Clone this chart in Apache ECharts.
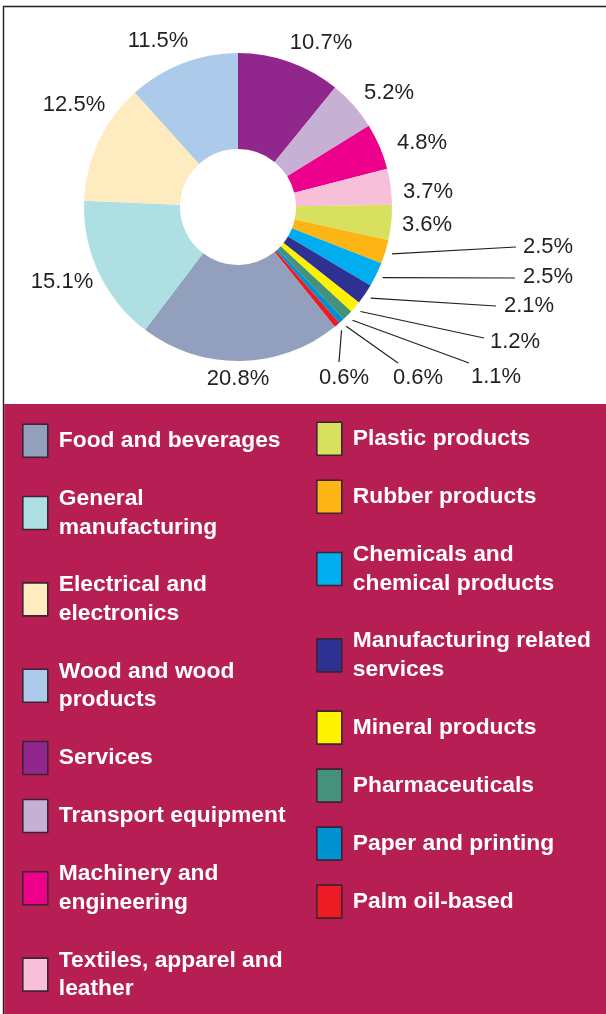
<!DOCTYPE html>
<html>
<head>
<meta charset="utf-8">
<title>Investments by industry</title>
<script src="https://cdn.jsdelivr.net/npm/echarts@6/dist/echarts.min.js"></script>
<style>
  html, body { margin: 0; padding: 0; background: #ffffff; }
  #chart { width: 606px; height: 1014px; }
</style>
</head>
<body>
<div id="chart"></div>
<script>
// Industries, in legend order (left column first, then right column)
var categories = [
  'Food and beverages',
  'General manufacturing',
  'Electrical and electronics',
  'Wood and wood products',
  'Services',
  'Transport equipment',
  'Machinery and engineering',
  'Textiles, apparel and leather',
  'Plastic products',
  'Rubber products',
  'Chemicals and chemical products',
  'Manufacturing related services',
  'Mineral products',
  'Pharmaceuticals',
  'Paper and printing',
  'Palm oil-based'
];

// Share of each industry, in percent
var shares = [20.8, 15.1, 12.5, 11.5, 10.7, 5.2, 4.8, 3.7, 3.6, 2.5, 2.5, 2.1, 1.2, 1.1, 0.6, 0.6];

// Legend text with its line breaks
var legendText = [
  'Food and beverages',
  'General\nmanufacturing',
  'Electrical and\nelectronics',
  'Wood and wood\nproducts',
  'Services',
  'Transport equipment',
  'Machinery and\nengineering',
  'Textiles, apparel and\nleather',
  'Plastic products',
  'Rubber products',
  'Chemicals and\nchemical products',
  'Manufacturing related\nservices',
  'Mineral products',
  'Pharmaceuticals',
  'Paper and printing',
  'Palm oil-based'
];

var colors = [
  '#929fbd', '#aedfe3', '#feebbf', '#accbea',
  '#91278c', '#c6b1d5', '#ec008c', '#f7c0d8',
  '#d7e15e', '#fdb515', '#00aeef', '#2e3192',
  '#fff200', '#46917b', '#0092d0', '#ed1c24'
];

// ---- layout ----
var CX = 238, CY = 207, R_OUT = 154, R_IN = 58;
var FONT = '"Liberation Sans", Arial, Helvetica, sans-serif';

// The sweep starts at 12 o'clock with "Services" and runs clockwise
var firstInSweep = 4;
var sweep = [];
for (var k = 0; k < categories.length; k++) sweep.push((firstInSweep + k) % categories.length);

// Label centres (offset from the pie centre) and leader-line ends for the thin slices
var labelSpots = [
  [0, 172], [-176, 75], [-164, -102], [-80, -166],
  [83, -164], [151, -114], [184, -64], [190, -15],
  [189, 18], [310, 40], [310, 70], [291, 99],
  [277, 135], [258, 170], [180, 171], [106, 171]
];
var lineEnds = [
  null, null, null, null, null, null, null, null, null,
  [278, 40], [277, 71], [258, 99], [246, 131], [231, 156], [160, 156], [101, 155]
];

// Mid angle of every slice, clockwise from 12 o'clock, in radians
var total = shares.reduce(function (a, b) { return a + b; }, 0);
var midAngle = {};
var acc = 0;
sweep.forEach(function (i) {
  midAngle[i] = (acc + shares[i] / 2) / total * Math.PI * 2;
  acc += shares[i];
});

var pieData = sweep.map(function (i) {
  return {
    name: categories[i],
    value: shares[i],
    itemStyle: { color: colors[i] },
    labelLine: { show: !!lineEnds[i] }
  };
});

function legendFor(names, left, top) {
  return {
    orient: 'vertical',
    left: left,
    top: top,
    height: 640,
    padding: 0,
    itemGap: 23.4,
    itemWidth: 25,
    itemHeight: 33,
    icon: 'rect',
    selectedMode: false,
    data: names,
    itemStyle: { borderColor: '#3d2333', borderWidth: 1.6 },
    formatter: function (name) { return legendText[categories.indexOf(name)]; },
    textStyle: {
      color: '#ffffff',
      fontFamily: FONT,
      fontWeight: 'bold',
      fontSize: 22.8,
      lineHeight: 28.5,
      padding: [3, 0, 3, 6]
    }
  };
}

var chart = echarts.init(document.getElementById('chart'), null, { renderer: 'canvas', width: 606, height: 1014 });

chart.setOption({
  animation: false,
  backgroundColor: '#ffffff',
  graphic: [
    {
      type: 'rect', z: -10, silent: true,
      shape: { x: 3.5, y: 6.5, width: 620, height: 1020 },
      style: { fill: '#ffffff', stroke: '#231f20', lineWidth: 1.4 }
    },
    {
      type: 'rect', z: -9, silent: true,
      shape: { x: 4.2, y: 404, width: 610, height: 620 },
      style: { fill: '#b71e53' }
    }
  ],
  legend: [
    legendFor(categories.slice(0, 8), 22, 423.5),
    legendFor(categories.slice(8), 316, 421.5)
  ],
  series: [{
    type: 'pie',
    center: [CX, CY],
    radius: [R_IN, R_OUT],
    startAngle: 90,
    clockwise: true,
    avoidLabelOverlap: false,
    silent: true,
    emphasis: { disabled: true },
    itemStyle: { borderWidth: 0 },
    label: {
      show: true,
      position: 'outside',
      color: '#231f20',
      fontFamily: FONT,
      fontSize: 22,
      formatter: function (p) { return p.value.toFixed(1) + '%'; }
    },
    labelLine: {
      show: true,
      smooth: false,
      lineStyle: { color: '#231f20', width: 1.2 }
    },
    labelLayout: function (p) {
      var i = sweep[p.dataIndex];
      var spot = labelSpots[i];
      var out = { x: CX + spot[0], y: CY + spot[1], align: 'center', verticalAlign: 'middle' };
      var end = lineEnds[i];
      if (end) {
        var a = midAngle[i];
        var r = R_OUT + 7;
        var s = [CX + r * Math.sin(a), CY - r * Math.cos(a)];
        var e = [CX + end[0], CY + end[1]];
        out.labelLinePoints = [s, e, e];
      }
      return out;
    },
    data: pieData
  }]
});
</script>
</body>
</html>
